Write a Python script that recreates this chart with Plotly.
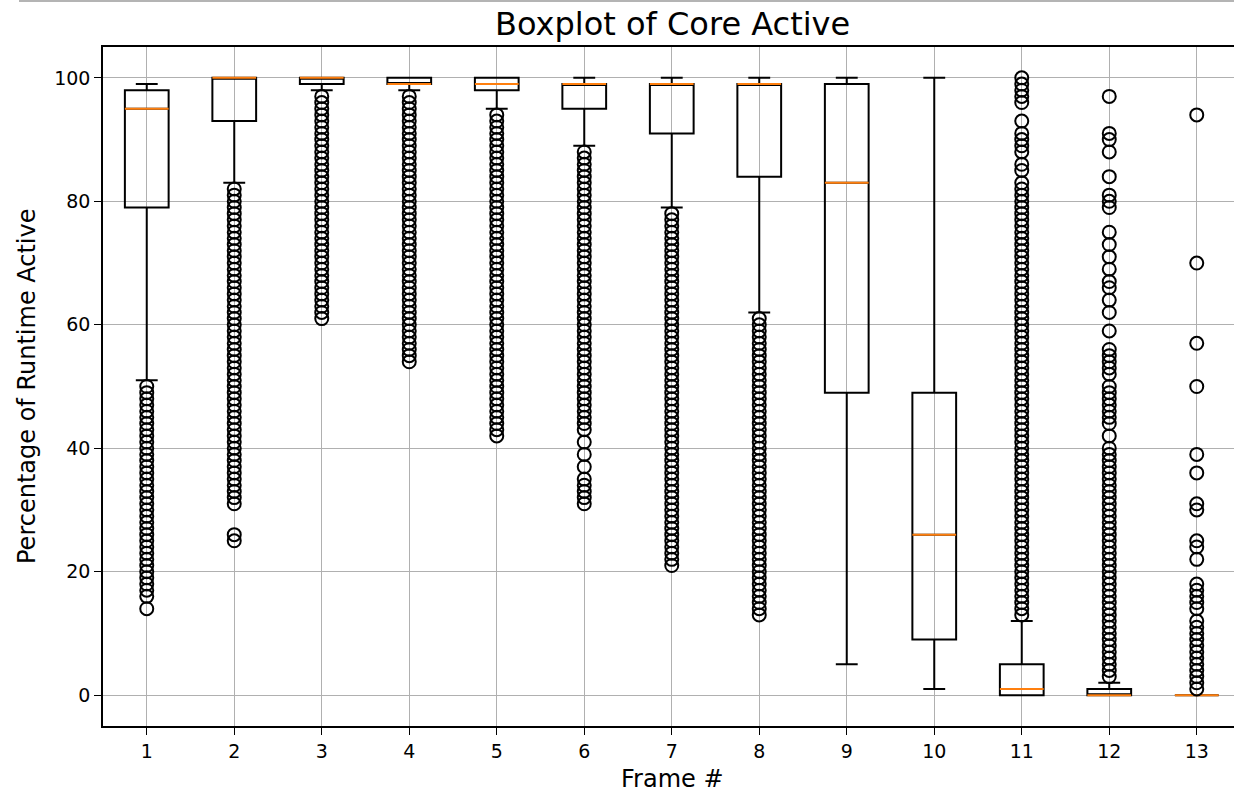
import plotly.graph_objects as go

# ---------------- data ----------------
frames = [1, 2, 3, 4, 5, 6, 7, 8, 9, 10, 11, 12, 13]
tick_labels = ["1", "2", "3", "4", "5", "6", "7", "8", "9", "10", "11", "12", "13"]

q1 = [79, 93, 99, 99, 98, 95, 91, 84, 49, 9, 0, 0, 0]
medians = [95, 100, 100, 99, 99, 99, 99, 99, 83, 26, 1, 0, 0]
q3 = [98, 100, 100, 100, 100, 99, 99, 99, 99, 49, 5, 1, 0]
lower_whisker = [51, 83, 98, 98, 95, 89, 79, 62, 5, 1, 0, 0, 0]
upper_whisker = [99, 100, 100, 100, 100, 100, 100, 100, 100, 100, 12, 2, 0]

outliers_1 = [14, 16, 17, 18, 19, 20, 21, 22, 23, 24, 25, 26, 27, 28, 29, 30, 31, 32, 33, 34,
              35, 36, 37, 38, 39, 40, 41, 42, 43, 44, 45, 46, 47, 48, 49, 50]
outliers_2 = [25, 26, 31, 32, 33, 34, 35, 36, 37, 38, 39, 40, 41, 42, 43, 44, 45, 46, 47, 48,
              49, 50, 51, 52, 53, 54, 55, 56, 57, 58, 59, 60, 61, 62, 63, 64, 65, 66, 67, 68,
              69, 70, 71, 72, 73, 74, 75, 76, 77, 78, 79, 80, 81, 82]
outliers_3 = [61, 62, 63, 64, 65, 66, 67, 68, 69, 70, 71, 72, 73, 74, 75, 76, 77, 78, 79, 80,
              81, 82, 83, 84, 85, 86, 87, 88, 89, 90, 91, 92, 93, 94, 95, 96, 97]
outliers_4 = [54, 55, 56, 57, 58, 59, 60, 61, 62, 63, 64, 65, 66, 67, 68, 69, 70, 71, 72, 73,
              74, 75, 76, 77, 78, 79, 80, 81, 82, 83, 84, 85, 86, 87, 88, 89, 90, 91, 92, 93,
              94, 95, 96, 97]
outliers_5 = [42, 43, 44, 45, 46, 47, 48, 49, 50, 51, 52, 53, 54, 55, 56, 57, 58, 59, 60, 61,
              62, 63, 64, 65, 66, 67, 68, 69, 70, 71, 72, 73, 74, 75, 76, 77, 78, 79, 80, 81,
              82, 83, 84, 85, 86, 87, 88, 89, 90, 91, 92, 93, 94]
outliers_6 = [31, 32, 33, 34, 35, 37, 39, 41, 43, 44, 45, 46, 47, 48, 49, 50, 51, 52, 53, 54,
              55, 56, 57, 58, 59, 60, 61, 62, 63, 64, 65, 66, 67, 68, 69, 70, 71, 72, 73, 74,
              75, 76, 77, 78, 79, 80, 81, 82, 83, 84, 85, 86, 87, 88]
outliers_7 = [21, 22, 23, 24, 25, 26, 27, 28, 29, 30, 31, 32, 33, 34, 35, 36, 37, 38, 39, 40,
              41, 42, 43, 44, 45, 46, 47, 48, 49, 50, 51, 52, 53, 54, 55, 56, 57, 58, 59, 60,
              61, 62, 63, 64, 65, 66, 67, 68, 69, 70, 71, 72, 73, 74, 75, 76, 77, 78]
outliers_8 = [13, 14, 15, 16, 17, 18, 19, 20, 21, 22, 23, 24, 25, 26, 27, 28, 29, 30, 31, 32,
              33, 34, 35, 36, 37, 38, 39, 40, 41, 42, 43, 44, 45, 46, 47, 48, 49, 50, 51, 52,
              53, 54, 55, 56, 57, 58, 59, 60, 61]
outliers_9 = []
outliers_10 = []
outliers_11 = [13, 14, 15, 16, 17, 18, 19, 20, 21, 22, 23, 24, 25, 26, 27, 28, 29, 30, 31, 32,
               33, 34, 35, 36, 37, 38, 39, 40, 41, 42, 43, 44, 45, 46, 47, 48, 49, 50, 51, 52,
               53, 54, 55, 56, 57, 58, 59, 60, 61, 62, 63, 64, 65, 66, 67, 68, 69, 70, 71, 72,
               73, 74, 75, 76, 77, 78, 79, 80, 81, 82, 83, 85, 86, 88, 89, 90, 91, 93, 96, 97,
               98, 99, 100]
outliers_12 = [3, 4, 5, 6, 7, 8, 9, 10, 11, 12, 13, 14, 15, 16, 17, 18, 19, 20, 21, 22,
               23, 24, 25, 26, 27, 28, 29, 30, 31, 32, 33, 34, 35, 36, 37, 38, 39, 40, 42, 44,
               45, 46, 47, 48, 49, 50, 52, 53, 54, 55, 56, 59, 62, 64, 66, 67, 69, 71, 73, 75,
               79, 80, 81, 84, 88, 90, 91, 97]
outliers_13 = [1, 2, 3, 4, 5, 6, 7, 8, 9, 10, 11, 12, 14, 15, 16, 17, 18, 22, 24, 25,
               30, 31, 36, 39, 50, 57, 70, 94]

outliers = [outliers_1, outliers_2, outliers_3, outliers_4, outliers_5, outliers_6, outliers_7,
            outliers_8, outliers_9, outliers_10, outliers_11, outliers_12, outliers_13]

# ---------------- styling constants ----------------
W, H = 1234, 793
ML, MR, MT, MB = 103, 0, 47, 67
PW, PH = W - ML - MR, H - MT - MB
FONT = "DejaVu Sans"
BOX_W = 0.5
GRID = "#b0b0b0"
PX_PER_FRAME = 87.5


def px_x(px):
    return (px - ML) / PW


def px_y(py):
    return (H - MB - py) / PH


fig = go.Figure()

# boxes (precomputed statistics)
fig.add_trace(go.Box(
    x=frames, q1=q1, median=medians, q3=q3,
    lowerfence=lower_whisker, upperfence=upper_whisker,
    width=BOX_W, whiskerwidth=0.5, boxpoints=False,
    fillcolor="rgba(0,0,0,0)", line=dict(color="black", width=2),
    showlegend=False, hoverinfo="skip",
))

# orange medians drawn on top
mx, my = [], []
for f, m in zip(frames, medians):
    mx += [f - BOX_W / 2, f + BOX_W / 2, None]
    my += [m, m, None]
fig.add_trace(go.Scatter(x=mx, y=my, mode="lines",
                         line=dict(color="#ff7f0e", width=2),
                         showlegend=False, hoverinfo="skip"))

# fliers
ox, oy = [], []
for f, vals in zip(frames, outliers):
    ox += [f] * len(vals)
    oy += vals
fig.add_trace(go.Scatter(x=ox, y=oy, mode="markers",
                         marker=dict(symbol="circle-open", size=13, color="black",
                                     line=dict(color="black", width=2)),
                         showlegend=False, hoverinfo="skip"))

fig.update_layout(
    width=W, height=H,
    margin=dict(l=ML, r=MR, t=MT, b=MB, pad=0),
    paper_bgcolor="white", plot_bgcolor="white",
    font=dict(family=FONT, color="black", size=18),
    xaxis=dict(
        range=[0.5, 0.5 + PW / PX_PER_FRAME], tickmode="array", tickvals=frames,
        ticktext=tick_labels,
        showgrid=True, gridcolor=GRID, gridwidth=1.4, zeroline=False,
        showline=True, linecolor="black", linewidth=1.6, mirror=True,
        ticks="outside", ticklen=7, tickwidth=1.4, tickcolor="black",
        tickfont=dict(size=19, family=FONT),
    ),
    yaxis=dict(
        range=[-5, 105], tickmode="array", tickvals=[0, 20, 40, 60, 80, 100],
        showgrid=True, gridcolor=GRID, gridwidth=1.4, zeroline=False,
        showline=True, linecolor="black", linewidth=1.6, mirror=False,
        ticks="outside", ticklen=7, tickwidth=1.4, tickcolor="black",
        tickfont=dict(size=19, family=FONT),
    ),
    annotations=[
        dict(text="Boxplot of Core Active", xref="paper", yref="paper",
             x=px_x(672), y=px_y(24), xanchor="center", yanchor="middle",
             showarrow=False, font=dict(size=32, family=FONT, color="black")),
        dict(text="Percentage of Runtime Active", xref="paper", yref="paper",
             x=px_x(27), y=px_y(386), xanchor="center", yanchor="middle", textangle=-90,
             showarrow=False, font=dict(size=24, family=FONT, color="black")),
        dict(text="Frame #", xref="paper", yref="paper",
             x=px_x(672), y=px_y(779), xanchor="center", yanchor="middle",
             showarrow=False, font=dict(size=24, family=FONT, color="black")),
    ],
    shapes=[
        dict(type="line", xref="paper", yref="paper",
             x0=px_x(19), x1=px_x(W), y0=px_y(1), y1=px_y(1),
             line=dict(color="#b4b4b4", width=2)),
    ],
)

fig.write_html("out.html")
